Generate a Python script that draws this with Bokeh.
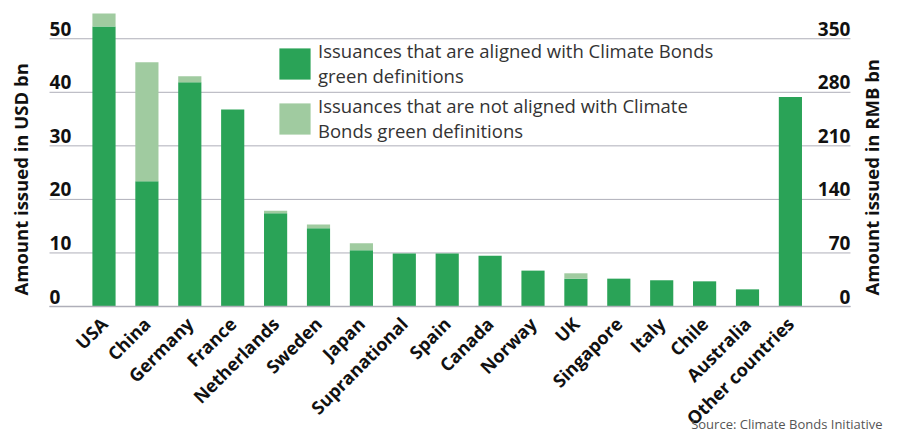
from math import pi
from bokeh.plotting import figure
from bokeh.models import ColumnDataSource, Range1d
from bokeh.core.properties import value
from bokeh.embed import file_html
from bokeh.resources import INLINE

countries = ["USA", "China", "Germany", "France", "Netherlands", "Sweden", "Japan",
             "Supranational", "Spain", "Canada", "Norway", "UK", "Singapore", "Italy",
             "Chile", "Australia", "Other countries"]
aligned = [52.3, 23.4, 41.9, 36.8, 17.4, 14.6, 10.5, 9.9, 9.9, 9.5, 6.7, 5.2, 5.2, 4.9,
           4.7, 3.2, 39.1]
not_aligned = [2.4, 22.2, 1.1, 0.0, 0.5, 0.7, 1.3, 0.0, 0.0, 0.0, 0.0, 1.0, 0.0, 0.0,
               0.0, 0.0, 0.0]
usd_ticks = [0, 10, 20, 30, 40, 50]
rmb_ticks = [0, 70, 140, 210, 280, 350]
usd_to_rmb = 7.0

label_aligned = "Issuances that are aligned with Climate Bonds\ngreen definitions"
label_not = "Issuances that are not aligned with Climate\nBonds green definitions"
y_title_left = "Amount issued in USD bn"
y_title_right = "Amount issued in RMB bn"
source_text = "Source: Climate Bonds Initiative"

DARK = "#2aa357"
LIGHT = "#a0cba0"
GRID = "#afafb9"
INK = "#111111"
FONT = "Open Sans"

W, H = 885, 432
PX_X = 42.9      # pixels per category step
PX_Y = 5.355     # pixels per USD bn
ORIGIN_X = 103.5  # pixel x of first category
ORIGIN_Y = 306.0  # pixel y of zero line

x0 = -ORIGIN_X / PX_X
x1 = x0 + W / PX_X
y1 = ORIGIN_Y / PX_Y
y0 = -(H - ORIGIN_Y) / PX_Y

# plotting-area extents (data units)
gx0, gx1 = -1.27, 17.4

idx = list(range(len(countries)))
src = ColumnDataSource(dict(x=idx, aligned=aligned, not_aligned=not_aligned,
                            name=countries, y0=[0] * len(idx)))

p = figure(width=W, height=H, output_backend="svg", toolbar_location=None,
           x_range=Range1d(x0, x1), y_range=Range1d(y0, y1),
           x_axis_location=None, y_axis_location=None,
           min_border=0)
p.extra_y_ranges = {"rmb": Range1d(y0 * usd_to_rmb, y1 * usd_to_rmb)}
p.outline_line_color = None
p.grid.visible = False

# gridlines
p.segment(x0=[gx0] * len(usd_ticks), x1=[gx1] * len(usd_ticks), y0=usd_ticks,
          y1=usd_ticks, line_color=GRID, line_width=1)

rs = p.vbar_stack(["aligned", "not_aligned"], x="x", width=0.54, source=src,
                  color=[DARK, LIGHT], line_color=None,
                  legend_label=[label_aligned, label_not])

# baseline above bars
p.segment(x0=[gx0], x1=[gx1], y0=usd_ticks[:1], y1=usd_ticks[:1],
          line_color=GRID, line_width=1.3)

# category labels
p.text(x="x", y="y0", text="name", source=src, angle=pi / 4, text_align="right",
       text_baseline="middle", x_offset=0, y_offset=14, text_font=value(FONT),
       text_font_style="bold", text_font_size="18px", text_color=INK)

# tick labels
lsrc = ColumnDataSource(dict(x=[gx0] * len(usd_ticks), y=usd_ticks,
                             t=[str(v) for v in usd_ticks]))
p.text(x="x", y="y", text="t", source=lsrc, text_align="left",
       text_baseline="alphabetic", y_offset=-10, text_font=value(FONT),
       text_font_style="bold", text_font_size="19px", text_color=INK)
rsrc = ColumnDataSource(dict(x=[gx1] * len(rmb_ticks), y=rmb_ticks,
                             t=[str(v) for v in rmb_ticks]))
p.text(x="x", y="y", text="t", source=rsrc, y_range_name="rmb", text_align="right",
       text_baseline="alphabetic", y_offset=-10, text_font=value(FONT),
       text_font_style="bold", text_font_size="19px", text_color=INK)

# axis titles
p.text(x=[-1.935], y=[2.05], text=[y_title_left], angle=pi / 2, text_align="left",
       text_baseline="middle", text_font=value(FONT), text_font_style="bold",
       text_font_size="18.5px", text_color=INK)
p.text(x=[x1], y=[2.05], text=[y_title_right], angle=pi / 2, text_align="left",
       text_baseline="middle", x_offset=-14, text_font=value(FONT),
       text_font_style="bold", text_font_size="18.5px", text_color=INK)

# source
p.text(x=[x1], y=[y0], text=[source_text], text_align="right",
       text_baseline="alphabetic", x_offset=-3, y_offset=-9, text_font=value(FONT),
       text_font_size="13px", text_color="#555555")

lg = p.legend[0]
lg.location = (275, 289)
lg.padding = 0
lg.margin = 0
lg.spacing = 5
lg.glyph_width = 39
lg.glyph_height = 39
lg.label_standoff = 4
lg.label_text_font = FONT
lg.label_text_font_size = "18.5px"
lg.label_text_line_height = 1.45
lg.label_text_color = "#333333"
lg.background_fill_alpha = 0
lg.border_line_color = None

open("out.html", "w").write(file_html(p, INLINE))
